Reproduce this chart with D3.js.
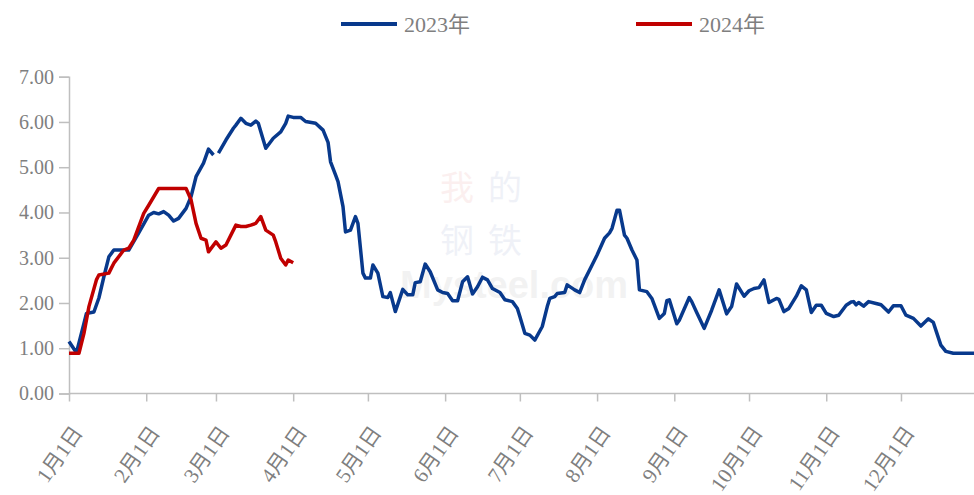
<!DOCTYPE html>
<html><head><meta charset="utf-8">
<script src="https://cdn.jsdelivr.net/npm/d3@7/dist/d3.min.js"></script>
<style>
html,body{margin:0;padding:0;background:#fff;}
svg{display:block;}
</style></head><body>
<svg id="chart" width="974" height="495"></svg>
<script>
// Day offsets from Jan 1 and values
const days2023 = [0,3,6,7,9,10,12,14,16,18,24,28,32,34,36,38,40,42,44,47,49,51,54,56,58,59,60,63,66,67,69,71,73,75,76,78,79,82,85,87,88,90,93,95,99,102,104,105,107,108,110,111,113,115,116,118,119,121,122,124,126,128,129,131,134,136,138,139,141,143,145,148,150,152,154,156,158,160,162,164,166,168,170,173,175,178,180,181,183,185,187,190,192,193,195,196,199,200,203,205,207,210,212,215,217,218,220,221,223,224,226,228,229,232,234,237,239,240,241,244,245,249,250,252,255,258,261,264,266,268,271,273,275,277,279,281,284,285,287,289,292,294,296,298,300,302,304,307,309,312,314,315,316,317,319,321,324,326,329,331,334,336,339,342,345,347,348,350,352,355,364];
const values2023 = [1.15,0.90,1.55,1.77,1.79,1.80,2.11,2.58,3.02,3.17,3.17,3.55,3.94,4.00,3.97,4.02,3.94,3.81,3.87,4.09,4.35,4.79,5.09,5.40,5.27,null,5.31,5.60,5.86,5.93,6.08,5.97,5.93,6.02,5.97,5.60,5.42,5.64,5.78,5.97,6.13,6.10,6.10,6.01,5.97,5.82,5.55,5.12,4.83,4.68,4.13,3.57,3.61,3.91,3.76,2.66,2.55,2.55,2.84,2.66,2.14,2.12,2.23,1.81,2.30,2.18,2.18,2.45,2.47,2.86,2.69,2.29,2.23,2.21,2.05,2.05,2.47,2.58,2.20,2.36,2.57,2.51,2.32,2.23,2.07,2.03,1.88,1.70,1.33,1.29,1.18,1.48,1.92,2.10,2.14,2.21,2.23,2.40,2.29,2.23,2.51,2.84,3.06,3.43,3.55,3.65,4.05,4.05,3.50,3.43,3.17,2.95,2.29,2.25,2.10,1.66,1.77,2.05,2.07,1.54,1.62,2.12,2.03,1.79,1.44,1.84,2.29,1.76,1.92,2.42,2.15,2.27,2.32,2.34,2.51,2.01,2.10,2.08,1.81,1.88,2.15,2.38,2.29,1.79,1.95,1.95,1.77,1.70,1.73,1.95,2.02,2.03,1.96,2.01,1.93,2.03,1.99,1.96,1.80,1.94,1.94,1.73,1.66,1.49,1.65,1.57,1.40,1.07,0.93,0.89,0.89];
const days2024 = [0,4,6,8,11,12,16,17,18,22,24,26,30,32,36,47,49,51,53,55,56,59,61,63,67,69,71,73,75,77,79,82,83,85,87,88,90];
const values2024 = [0.89,0.89,1.33,1.92,2.51,2.62,2.66,2.77,2.88,3.17,3.21,3.39,3.98,4.16,4.53,4.53,4.28,3.76,3.43,3.39,3.13,3.35,3.21,3.28,3.72,3.69,3.69,3.72,3.76,3.91,3.61,3.50,3.35,2.99,2.84,2.95,2.89];
const seriesNames = ["2023年","2024年"];
const seriesColors = ["#08398c","#c00000"];
const yTicks = [0,1,2,3,4,5,6,7];
const monthTickLabels = ["1月1日","2月1日","3月1日","4月1日","5月1日","6月1日","7月1日","8月1日","9月1日","10月1日","11月1日","12月1日"];

const SERIF = '"Liberation Serif","Noto Sans CJK SC",serif';
const svg = d3.select("#chart");
const base = new Date(2023,0,1);
const toDate = d => d3.timeDay.offset(base, d);

const x = d3.scaleTime().domain([base, new Date(2023,11,31)]).range([69, 975.7]);
const y = d3.scaleLinear().domain([0,7]).range([393.5, 76.7]);

// watermark
const wm = svg.append("g").attr("opacity",0.07).style("font-family",'"Noto Sans CJK SC",sans-serif');
const w1 = wm.append("text").attr("x",440).attr("y",200).attr("font-size",34).attr("letter-spacing",14);
w1.append("tspan").attr("fill","#d0302a").text("我");
w1.append("tspan").attr("fill","#2a4aa0").text("的");
wm.append("text").attr("x",440).attr("y",253).attr("font-size",34).attr("letter-spacing",14).attr("fill","#2a4aa0").text("钢铁");
wm.append("text").attr("x",400).attr("y",298).attr("font-size",38).attr("font-weight","bold").attr("fill","#555").style("font-family",'Arial,"Liberation Sans",sans-serif').text("Mysteel.com");

// y axis
const gray = "#bfbfbf", txt = "#7f7f7f";
const yAxis = svg.append("g").attr("transform","translate(69,0)")
  .call(d3.axisLeft(y).tickValues(yTicks).tickFormat(d3.format(".2f")).tickSize(10).tickPadding(5));
yAxis.select(".domain").attr("stroke",gray).attr("stroke-width",1.5);
yAxis.selectAll(".tick line").attr("stroke",gray).attr("stroke-width",1.5);
yAxis.selectAll(".tick text").style("font-family",SERIF).attr("fill",txt).attr("font-size",20);

// x axis
const monthDates = d3.timeMonth.range(base, new Date(2024,0,1));
const xAxis = svg.append("g").attr("transform","translate(0,393.5)")
  .call(d3.axisBottom(x).tickValues(monthDates).tickFormat((d,i)=>monthTickLabels[i]).tickSize(8).tickSizeOuter(0));
xAxis.select(".domain").attr("stroke",gray).attr("stroke-width",1.5).attr("d","M69,0H974");
xAxis.selectAll(".tick line").attr("stroke",gray).attr("stroke-width",1.5);
xAxis.selectAll(".tick text").style("font-family",SERIF).attr("fill",txt).attr("font-size",21)
  .attr("text-anchor","end").attr("dy",0).attr("y",0)
  .attr("transform","translate(14,39) rotate(-55)");

// lines
const line = d3.line().defined(d=>d[1]!=null).x(d=>x(toDate(d[0]))).y(d=>y(d[1]));
const s2023 = days2023.map((d,i)=>[d,values2023[i]]);
const s2024 = days2024.map((d,i)=>[d,values2024[i]]);
svg.append("path").datum(s2023).attr("d",line).attr("fill","none").attr("stroke",seriesColors[0]).attr("stroke-width",3.5).attr("stroke-linejoin","round");
svg.append("path").datum(s2024).attr("d",line).attr("fill","none").attr("stroke",seriesColors[1]).attr("stroke-width",3.5).attr("stroke-linejoin","round");

// legend
const legX = [341, 636];
seriesNames.forEach((n,i)=>{
  const g = svg.append("g").attr("transform",`translate(${legX[i]},24)`);
  g.append("line").attr("x1",0).attr("x2",56).attr("y1",0).attr("y2",0).attr("stroke",seriesColors[i]).attr("stroke-width",4);
  g.append("text").style("font-family",SERIF).attr("x",63).attr("y",8).attr("font-size",22).attr("fill",txt).text(n);
});
</script></body></html>
